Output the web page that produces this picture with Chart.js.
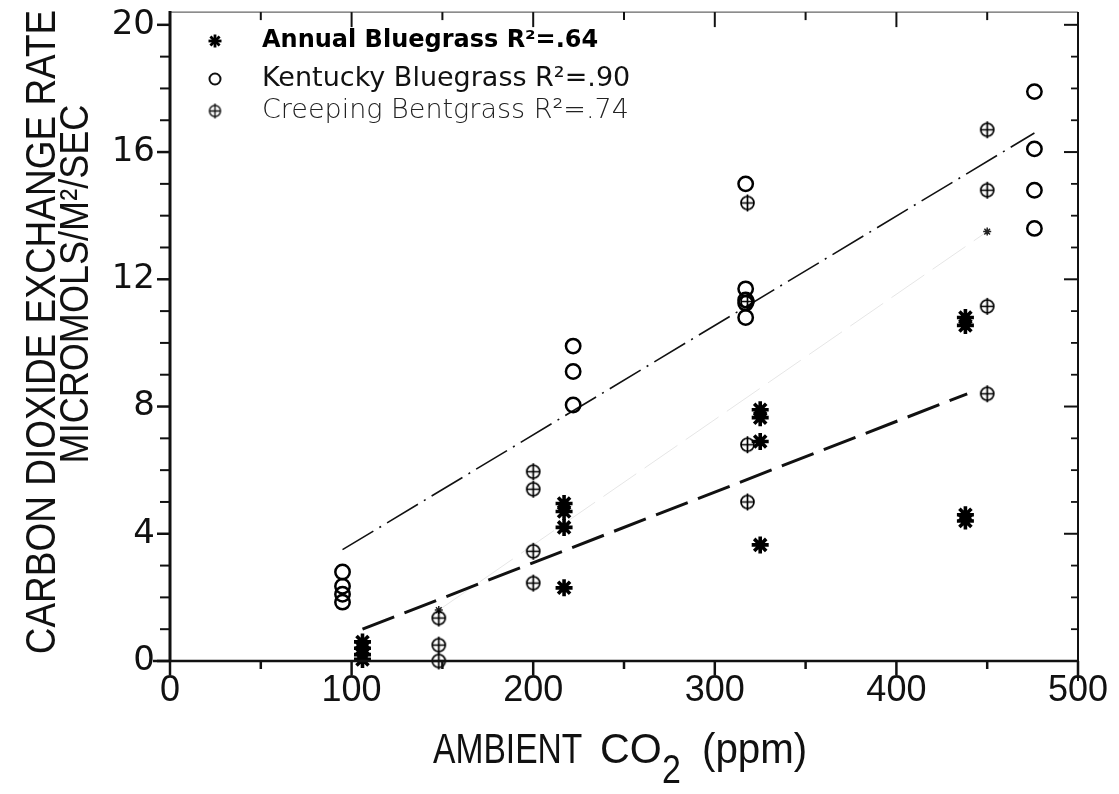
<!DOCTYPE html>
<html>
<head>
<meta charset="utf-8">
<script src="https://cdn.jsdelivr.net/npm/chart.js@4.4.1/dist/chart.umd.min.js"></script>
<style>
  html, body { margin: 0; padding: 0; background: #fff; }
  #wrap { width: 1119px; height: 794px; position: relative; }
</style>
</head>
<body>
<div id="wrap"><canvas id="chart"></canvas></div>
<script>
// values (CO2 ppm vs exchange rate)
const annualX = [106, 106, 106, 106, 217, 217, 217, 217, 325, 325, 325, 325, 438, 438, 438, 438];
const annualY = [0.6, 0.4, 0.2, 0.05, 4.95, 4.7, 4.2, 2.3, 7.9, 7.65, 6.9, 3.65, 10.8, 10.55, 4.6, 4.4];

const kentuckyX = [95, 95, 95, 95, 222, 222, 222, 317, 317, 317, 317, 317, 476, 476, 476, 476];
const kentuckyY = [2.8, 2.35, 2.1, 1.85, 9.9, 9.1, 8.05, 15.0, 11.7, 11.35, 11.25, 10.8, 17.9, 16.1, 14.8, 13.6];

const creepingX = [148, 148, 148, 200, 200, 200, 200, 318, 318, 318, 318, 450, 450, 450, 450];
const creepingY = [1.35, 0.5, 0, 5.95, 5.4, 3.45, 2.45, 14.4, 11.3, 6.8, 5.0, 16.7, 14.8, 11.15, 8.4];

// fitted lines, end points as drawn
const annualFitX = [106, 439];
const annualFitY = [1.0, 8.4];
const kentuckyFitX = [95, 476];
const kentuckyFitY = [3.5, 16.6];
const creepingFitX = [148, 450];
const creepingFitY = [1.6, 13.5];

const seriesLabels = ['Annual Bluegrass R²=.64', 'Kentucky Bluegrass R²=.90', 'Creeping Bentgrass R²=.74'];

const xTickLabels = [0, 100, 200, 300, 400, 500];
const xMinorTicks = [50, 150, 250, 350, 450];
const yTickLabels = [0, 4, 8, 12, 16, 20];
const yMinorTicks = [1, 2, 3, 5, 6, 7, 9, 10, 11, 13, 14, 15, 17, 18, 19];

const ctx = document.querySelector('#chart').getContext('2d');

function pts(xs, ys) {
    return xs.map((x, i) => ({ x: x, y: ys[i] }));
}

// circle with a cross through it
function plusCircle(r, lw, color) {
    const c = document.createElement('canvas');
    const s = 2 * r + 6;
    c.width = s;
    c.height = s;
    const g = c.getContext('2d');
    g.strokeStyle = color;
    g.lineWidth = lw;
    g.beginPath();
    g.arc(s / 2, s / 2, r, 0, Math.PI * 2);
    g.stroke();
    g.beginPath();
    g.moveTo(s / 2, 1);
    g.lineTo(s / 2, s - 1);
    g.moveTo(s / 2 - r, s / 2);
    g.lineTo(s / 2 + r, s / 2);
    g.stroke();
    return c;
}
const plusImg = plusCircle(6.5, 1.7, '#000');
const plusImgSmall = plusCircle(5.5, 1.4, '#111');

function seg(c, x1, y1, x2, y2, w) {
    c.lineWidth = w;
    c.beginPath();
    c.moveTo(x1, y1);
    c.lineTo(x2, y2);
    c.stroke();
}

const framePlugin = {
    id: 'frame',
    afterDatasetsDraw(chart) {
        const { ctx: c, chartArea: a, scales } = chart;
        const xs = scales.x, ys = scales.y;
        c.save();
        c.strokeStyle = '#666';
        seg(c, a.left, a.top, a.right, a.top, 1.2);
        c.strokeStyle = '#111';
        seg(c, a.left, a.top - 1, a.left, a.bottom + 1, 3);
        seg(c, a.left - 17, a.bottom, a.right, a.bottom, 2.5);
        seg(c, a.right, a.top, a.right, a.bottom + 20, 2);
        xTickLabels.forEach(v => {
            const p = xs.getPixelForValue(v);
            seg(c, p, a.bottom, p, a.bottom + 14, 2.5);
            seg(c, p, a.top, p, a.top + 15, 2);
        });
        xMinorTicks.forEach(v => {
            const p = xs.getPixelForValue(v);
            seg(c, p, a.bottom, p, a.bottom + 8, 2.5);
            seg(c, p, a.top, p, a.top + 8, 2);
        });
        yTickLabels.forEach(v => {
            const p = ys.getPixelForValue(v);
            seg(c, a.left - 13, p, a.left, p, 2.5);
            seg(c, a.right - 14, p, a.right, p, 2);
        });
        yMinorTicks.forEach(v => {
            const p = ys.getPixelForValue(v);
            seg(c, a.left - 10, p, a.left, p, 2);
            seg(c, a.right - 7, p, a.right, p, 1.8);
        });
        c.restore();
    }
};

function narrowText(c, text, x, y, size, k, rotate) {
    c.save();
    c.translate(x, y);
    if (rotate) c.rotate(-Math.PI / 2);
    c.scale(k, 1);
    c.font = size + 'px "Liberation Sans", Arial, sans-serif';
    c.fillText(text, 0, 0);
    c.restore();
}

const titlePlugin = {
    id: 'titles',
    afterDraw(chart) {
        const { ctx: c, chartArea: a } = chart;
        c.save();
        c.fillStyle = '#111';
        c.textBaseline = 'alphabetic';
        // y title, two lines
        c.textAlign = 'center';
        narrowText(c, 'CARBON DIOXIDE EXCHANGE RATE', 55, 332, 43, 0.86, true);
        narrowText(c, 'MICROMOLS/M²/SEC', 88, 284, 41, 0.88, true);
        // x title with lowered 2
        c.textAlign = 'left';
        const cx = (a.left + a.right) / 2;
        narrowText(c, 'AMBIENT', cx - 191, 763, 42, 0.8, false);
        narrowText(c, 'CO', cx - 24, 763, 42, 0.98, false);
        narrowText(c, '2', cx + 38, 783, 40, 0.85, false);
        narrowText(c, '(ppm)', cx + 78, 763, 42, 0.96, false);

        // legend
        const sx = 215, tx = 262;
        const rows = [41, 79, 111];
        c.strokeStyle = '#000';
        for (let i = 0; i < 4; i++) {
            const ang = i * Math.PI / 4;
            seg(c, sx - 6.5 * Math.cos(ang), rows[0] - 6.5 * Math.sin(ang), sx + 6.5 * Math.cos(ang), rows[0] + 6.5 * Math.sin(ang), 2.8);
        }
        c.strokeStyle = '#111';
        c.lineWidth = 2;
        c.beginPath();
        c.arc(sx, rows[1], 5.5, 0, Math.PI * 2);
        c.stroke();
        c.drawImage(plusImgSmall, sx - plusImgSmall.width / 2, rows[2] - plusImgSmall.height / 2);

        c.textBaseline = 'middle';
        c.fillStyle = '#000';
        c.font = 'bold 24px "DejaVu Sans", sans-serif';
        c.fillText(seriesLabels[0], tx, rows[0]);
        c.fillStyle = '#111';
        c.font = '27px "DejaVu Sans", sans-serif';
        c.fillText(seriesLabels[1], tx, rows[1]);
        c.fillStyle = '#222';
        c.font = '200 27px "DejaVu Sans", sans-serif';
        c.fillText(seriesLabels[2], tx, rows[2]);
        c.restore();
    }
};

new Chart(ctx, {
    type: 'scatter',
    data: {
        datasets: [{
            label: seriesLabels[0],
            data: pts(annualX, annualY),
            pointStyle: 'star',
            pointRadius: 8.5,
            pointBorderWidth: 3.6,
            pointBorderColor: '#000',
            pointBackgroundColor: '#000',
            clip: false
        }, {
            label: seriesLabels[1],
            data: pts(kentuckyX, kentuckyY),
            pointStyle: 'circle',
            pointRadius: 7.2,
            pointBorderWidth: 2.5,
            pointBorderColor: '#000',
            pointBackgroundColor: 'rgba(0,0,0,0)',
            clip: false
        }, {
            label: seriesLabels[2],
            data: pts(creepingX, creepingY),
            pointStyle: plusImg,
            clip: false
        }, {
            label: 'annual fit',
            data: pts(annualFitX, annualFitY),
            showLine: true,
            borderColor: '#111',
            borderWidth: 3,
            borderDash: [34, 11],
            pointRadius: 0
        }, {
            label: 'kentucky fit',
            data: pts(kentuckyFitX, kentuckyFitY),
            showLine: true,
            borderColor: '#111',
            borderWidth: 1.6,
            borderDash: [36, 7, 2, 7],
            pointRadius: 0
        }, {
            label: 'creeping fit',
            data: pts(creepingFitX, creepingFitY),
            showLine: true,
            borderColor: 'rgba(0,0,0,0.1)',
            borderWidth: 1,
            borderDash: [40, 10],
            pointStyle: 'star',
            pointRadius: 4,
            pointBorderWidth: 1.5,
            pointBorderColor: '#222',
            clip: false
        }]
    },
    options: {
        responsive: true,
        maintainAspectRatio: false,
        animation: false,
        events: [],
        layout: { padding: { top: 8, right: 41, left: 0, bottom: 0 } },
        plugins: {
            legend: { display: false },
            tooltip: { enabled: false }
        },
        scales: {
            x: {
                type: 'linear',
                min: 0,
                max: 500,
                grid: { display: false, drawTicks: false },
                border: { display: false },
                ticks: {
                    padding: 12,
                    color: '#111',
                    font: { family: '"Liberation Sans", Arial, sans-serif', size: 36, lineHeight: 1 }
                },
                afterBuildTicks: scale => { scale.ticks = xTickLabels.map(v => ({ value: v })); },
                afterFit: scale => { scale.height = 133; scale.paddingLeft = 0; scale.paddingRight = 0; }
            },
            y: {
                type: 'linear',
                min: 0,
                max: 20.4,
                grid: { display: false, drawTicks: false },
                border: { display: false },
                ticks: {
                    padding: 15,
                    color: '#111',
                    font: { family: '"DejaVu Sans", sans-serif', size: 34, lineHeight: 1 }
                },
                afterBuildTicks: scale => { scale.ticks = yTickLabels.map(v => ({ value: v })); },
                afterFit: scale => { scale.width = 170; scale.paddingTop = 0; scale.paddingBottom = 0; }
            }
        }
    },
    plugins: [framePlugin, titlePlugin]
});
</script>
</body>
</html>
